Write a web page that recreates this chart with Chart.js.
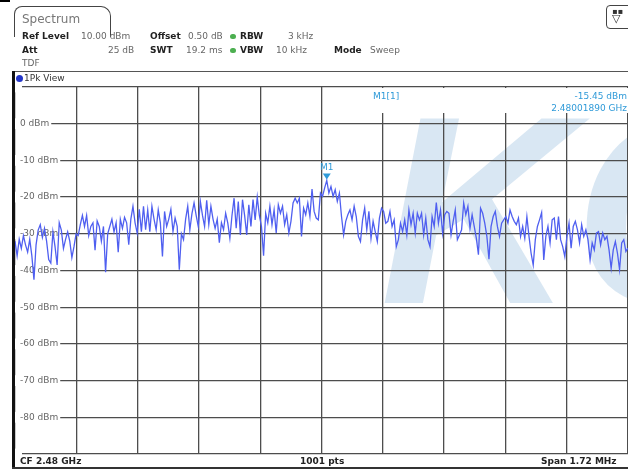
<!DOCTYPE html>
<html>
<head>
<meta charset="utf-8">
<script src="https://cdn.jsdelivr.net/npm/chart.js@4.4.1/dist/chart.umd.min.js"></script>
<style>
body{margin:0;background:#fff;font-family:"DejaVu Sans",sans-serif}
#wrap{position:relative;width:628px;height:470px;overflow:hidden;background:#fff}
#c{position:absolute;left:0;top:0}
.t{position:absolute;font-size:9px;line-height:11px;white-space:nowrap}
.b{font-weight:bold;color:#222}
.v{color:#666}
.dot{position:absolute;width:6px;height:5px;border-radius:3px;background:#4caf50}
</style>
</head>
<body>
<div id="wrap">
<canvas id="c" width="628" height="470"></canvas>

<div style="position:absolute;left:0;top:0;width:10px;height:2px;background:#000"></div>
<div style="position:absolute;left:14px;top:6px;width:95px;height:30px;border:1px solid #444;border-bottom:none;border-radius:8px 10px 0 0"></div>
<div class="t" style="left:22px;top:12px;font-size:12px;line-height:14px;color:#777">Spectrum</div>
<div style="position:absolute;left:606px;top:5px;width:24px;height:22px;border:1px solid #444;border-radius:4px"></div>
<div class="t" style="left:612px;top:6px;font-size:8px;color:#333">&#9642;&#9642;</div>
<div class="t" style="left:612px;top:13px;font-size:11px;color:#333">&#9661;</div>

<div class="t b" style="left:22px;top:31px">Ref Level</div>
<div class="t v" style="left:81px;top:31px">10.00 dBm</div>
<div class="t b" style="left:150px;top:31px">Offset</div>
<div class="t v" style="left:188px;top:31px">0.50 dB</div>
<div class="dot" style="left:230px;top:34px"></div>
<div class="t b" style="left:240px;top:31px">RBW</div>
<div class="t v" style="left:288px;top:31px">3 kHz</div>

<div class="t b" style="left:22px;top:45px">Att</div>
<div class="t v" style="left:108px;top:45px">25 dB</div>
<div class="t b" style="left:150px;top:45px">SWT</div>
<div class="t v" style="left:186px;top:45px">19.2 ms</div>
<div class="dot" style="left:230px;top:48px"></div>
<div class="t b" style="left:240px;top:45px">VBW</div>
<div class="t v" style="left:276px;top:45px">10 kHz</div>
<div class="t b" style="left:334px;top:45px">Mode</div>
<div class="t v" style="left:370px;top:45px">Sweep</div>

<div class="t v" style="left:22px;top:58px">TDF</div>

<div style="position:absolute;left:14px;top:71px;width:620px;height:15px;border:1px solid #555;border-right:none;border-bottom:none;box-sizing:border-box"></div>
<div style="position:absolute;left:16px;top:75px;width:7px;height:7px;border-radius:50%;background:#2335c8"></div>
<div class="t" style="left:24px;top:73px;color:#333">1Pk View</div>

<div style="position:absolute;left:12px;top:71px;width:3px;height:398px;background:#111"></div>
<div style="position:absolute;left:12px;top:467px;width:620px;height:2px;background:#333"></div>
<div class="t b" style="left:20px;top:456px">CF 2.48 GHz</div>
<div class="t b" style="left:300px;top:456px">1001 pts</div>
<div class="t b" style="left:541px;top:456px">Span 1.72 MHz</div>
</div>

<script>
// sweep points and y range (dBm)
let points=1001
let refLevel=10
let bottomLevel=-90
let levelTicks=[0,-10,-20,-30,-40,-50,-60,-70,-80]

// marker readout
let markerName="M1"
let markerLabel="M1[1]"
let markerLevel="-15.45 dBm"
let markerFreq="2.48001890 GHz"

// trace levels in dBm left to right
let levels=[
-32,-36,-31.5,-34,-30.5,-33,-35,-31.5,-36,-42.5,-33,-29,-27.5,-31,-28.5,-32,-37,-38,-29.5,-33.5,
-38.5,-27,-29,-34,-31.5,-29.5,-32,-36.5,-33.5,-30,-30.5,-27.5,-25,-28,-25,-30.5,-28,-27,-34.5,-26.5,
-28,-32,-28,-40.5,-30,-28,-26,-29.5,-27,-35,-26,-28.5,-25.5,-27,-33,
-26,-22.5,-27,-29.8,-23.3,-29.4,-22.5,-28.9,-23.5,-29.4,-22.5,-26,-28.9,-23.5,-27,-36.2,-23.9,-28,-26,-23.3,
-29.4,-25.7,-28,-39.8,-30,-31.6,-26,-22.5,-28.9,-24.5,-21.6,-25,-28,-21.2,-25,-28,-20.9,-27.5,-22.5,-26,
-28.5,-26,-32.4,-27,-28.9,-24.4,-27,-31.2,-25,-20.3,-28.5,-21.2,-30.3,-20.7,-25,-30.3,-22.1,-28,-20.7,-26.2,
-20,-25,-28,
-36,-24.4,-27,-22.5,-27.5,-23.5,-29.8,-22.1,-24.4,-22.5,-27.5,-24.8,-29.8,-26.6,-21.6,-20.3,-21.6,-20.3,-30.7,-23,
-24.8,-21.6,-25.3,-17.8,-23.9,-25.7,-26.2,-18.9,-19.8,-17.5,-15.45,-18.9,-17.1,-19.8,-18,-21.2,-18.9,-25.3,-30.3,-26.6,
-24.8,-23.5,-26.2,-22.5,-25.3,-30.7,-32.1,-26.2,-23,-28.9,-23.9,-31.2,-26.6,-29.4,-32.1,-25.7,-23,-23.9,-27.1,
-26.6,-23.9,-28,-26.2,-33.5,-31.6,-27.1,-29.4,-26.2,-30.3,-23.5,-27.5,-24.4,-29.8,-24.4,-26.2,-24.4,-30.3,-25.7,-31.6,
-33.5,-25.3,-28,-21.5,-27.1,-23.5,-29.8,-24.8,-23.9,-24.4,-30.3,-26.6,-23.5,-31.6,-30.3,-28.9,-21.6,-24.8,-22.5,-28.5,
-24.8,-28,-31.2,-35.7,-23,-24.4,-27.1,-30.7,-36.9,-28,-25.3,-23.9,-28,-30.7,-27.1,-26.2,-25.3,-27.1,-23.5,-25.3,-26.6,
-27.5,-25.7,-30.7,-28,-31.2,-25.3,-30.7,-35.3,-38.5,-31.6,-28,-26.2,-24.2,-37.1,-30.7,-28,-32.5,-26.2,-25.7,-31.6,
-25.3,-31.6,-33.5,-36.2,-30.7,-27.1,-33.9,-28,-26.6,-28.9,-32.5,-27.5,-30.7,-28.9,-31.6,-37.1,-32.5,-34.4,-29.8,-29.4,
-33,-29.8,-31.6,-30.7,-34.4,-39.4,-34.4,-32.1,-35.3,-39.8,-32.5,-31.6,-34.8,-33.9
]

let step=(points-1)/(levels.length-1)

let watermark={
id:"watermark",
beforeDraw(chart){
let a=chart.chartArea
let ctx=chart.ctx
ctx.save()
ctx.beginPath()
ctx.rect(a.left,a.top,a.right-a.left,a.bottom-a.top)
ctx.clip()
ctx.font='italic bold 268px "Liberation Sans"'
ctx.fillStyle="rgba(180,208,232,0.5)"
ctx.fillText("KC",380,303)
ctx.restore()
}
}

let marker={
id:"marker",
beforeDatasetsDraw(chart){
let a=chart.chartArea
let ctx=chart.ctx
ctx.save()
ctx.fillStyle="#fff"
ctx.fillRect(326,a.top+1,a.right-326,25)
ctx.font='9px "DejaVu Sans"'
ctx.fillStyle="#2f9ad8"
ctx.textBaseline="alphabetic"
ctx.textAlign="left"
ctx.fillText(markerLabel,373,99)
ctx.textAlign="right"
ctx.fillText(markerLevel,627,99)
ctx.fillText(markerFreq,627,111)
ctx.restore()
},
afterDatasetsDraw(chart){
let ctx=chart.ctx
let i=levels.indexOf(Math.max(...levels))
let px=chart.scales.x.getPixelForValue(i*step)
let py=chart.scales.y.getPixelForValue(levels[i])
ctx.save()
ctx.fillStyle="#2f9ad8"
ctx.beginPath()
ctx.moveTo(px-4,py-7)
ctx.lineTo(px+4,py-7)
ctx.lineTo(px,py-1)
ctx.closePath()
ctx.fill()
ctx.font='9px "DejaVu Sans"'
ctx.textAlign="center"
ctx.fillText(markerName,px,py-10)
ctx.restore()
}
}

new Chart(document.getElementById("c"),{
type:"line",
data:{
datasets:[{
data:levels.map((v,i)=>({x:i*step,y:v})),
borderColor:"#4f5ff0",
borderWidth:1.3,
pointRadius:0,
tension:0
}]
},
options:{
responsive:false,
animation:false,
layout:{padding:{left:15,top:87,right:0,bottom:16}},
plugins:{legend:{display:false},tooltip:{enabled:false}},
scales:{
x:{
type:"linear",
min:0,
max:points-1,
afterFit:s=>{s.height=0},
ticks:{display:false,stepSize:(points-1)/10},
grid:{color:"#4d4d4d",lineWidth:1.3,drawTicks:false},
border:{display:false}
},
y:{
min:bottomLevel,
max:refLevel,
afterFit:s=>{s.width=0},
ticks:{
stepSize:10,
mirror:true,
padding:5,
color:"#666",
font:{size:9,family:"DejaVu Sans"},
showLabelBackdrop:true,
backdropColor:"#fff",
backdropPadding:{left:5,right:2,top:0,bottom:0},
callback:v=>levelTicks.includes(v)?v+" dBm":""
},
grid:{color:"#4d4d4d",lineWidth:1.3,drawTicks:false},
border:{display:false}
}
}
},
plugins:[watermark,marker]
})
</script>
</body>
</html>
